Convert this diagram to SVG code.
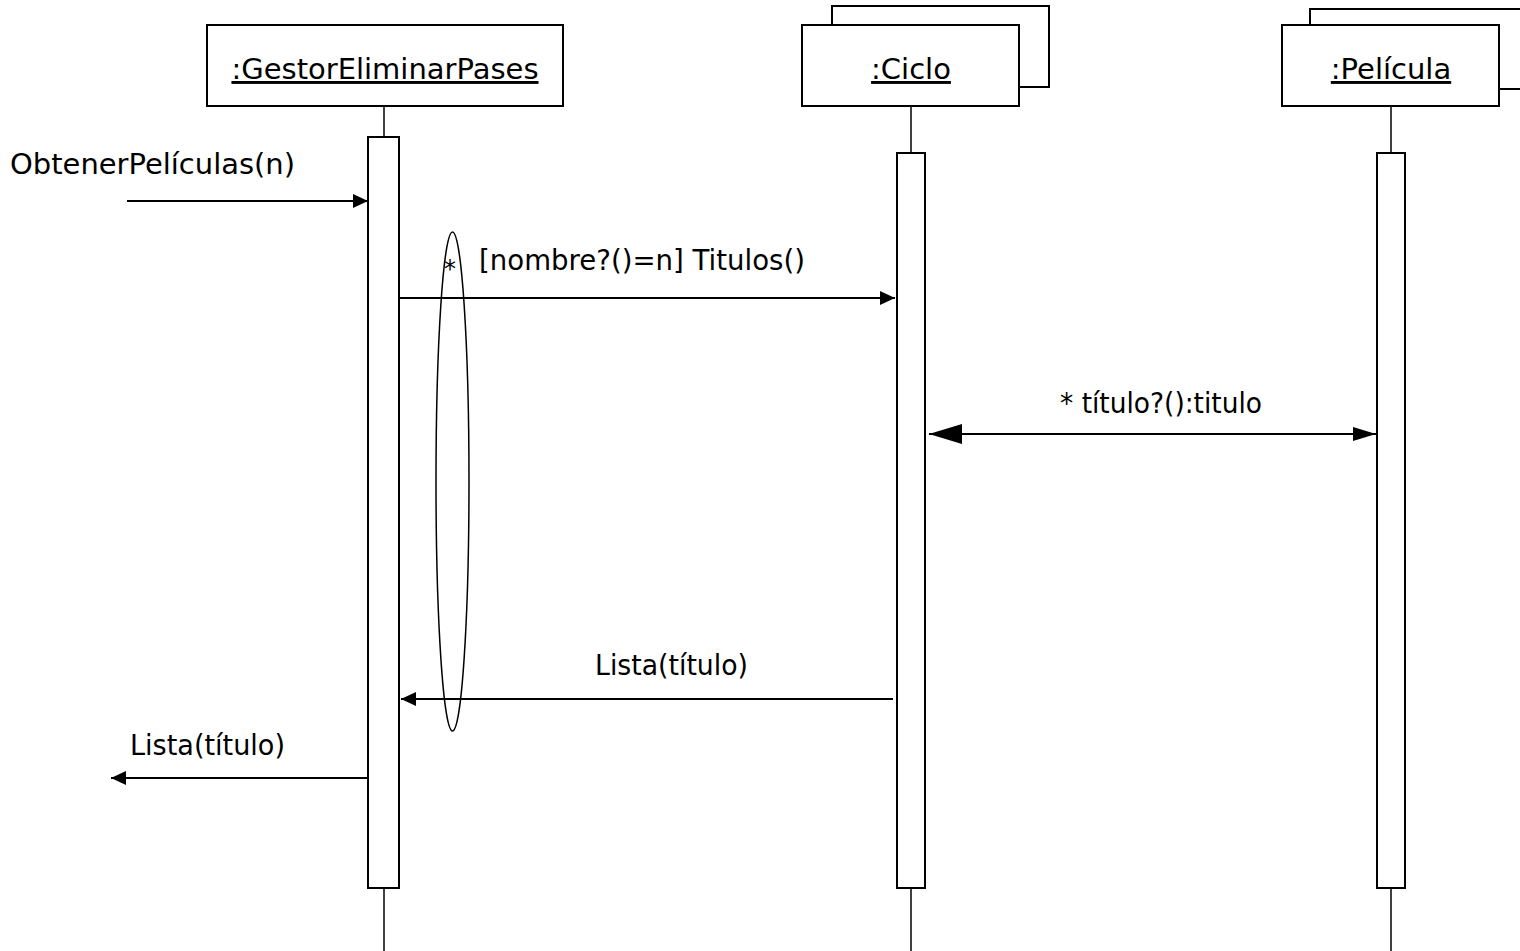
<svg xmlns="http://www.w3.org/2000/svg" width="1520" height="951" viewBox="0 0 1520 951">
  <defs>
    <style>
      .box { fill: #fff; stroke: #000; stroke-width: 2; }
      .life { stroke: #000; stroke-width: 1.5; fill: none; }
      .msg { stroke: #000; stroke-width: 2; fill: none; }
      .lbl { font-family: "DejaVu Sans", "Liberation Sans", sans-serif; font-size: 29px; fill: #000; }
      .name { font-family: "DejaVu Sans", "Liberation Sans", sans-serif; font-size: 29px; fill: #000; text-anchor: middle; text-decoration: underline; }
    </style>
    <marker id="arrow" viewBox="0 0 15 14" refX="15" refY="7" markerWidth="15" markerHeight="14" markerUnits="userSpaceOnUse" orient="auto">
      <path d="M0,0 L15,7 L0,14 Z" fill="#000"/>
    </marker>
    <marker id="arrowBig" viewBox="0 0 33 20" refX="33" refY="10" markerWidth="33" markerHeight="20" markerUnits="userSpaceOnUse" orient="auto-start-reverse">
      <path d="M0,0 L33,10 L0,20 Z" fill="#000"/>
    </marker>
    <marker id="arrowMid" viewBox="0 0 23 14" refX="23" refY="7" markerWidth="23" markerHeight="14" markerUnits="userSpaceOnUse" orient="auto">
      <path d="M0,0 L23,7 L0,14 Z" fill="#000"/>
    </marker>
  </defs>

  <rect width="1520" height="951" fill="#fff"/>

  <!-- Lifeline: GestorEliminarPases -->
  <g id="gestor">
    <line class="life" x1="384" y1="106" x2="384" y2="951"/>
    <rect class="box" x="207" y="25" width="356" height="81"/>
    <text class="name" x="385" y="79">:GestorEliminarPases</text>
    <rect class="box" x="368" y="137" width="31" height="751"/>
  </g>

  <!-- Lifeline: Ciclo (multi-object) -->
  <g id="ciclo">
    <line class="life" x1="911" y1="106" x2="911" y2="951"/>
    <rect class="box" x="832" y="6" width="217" height="81"/>
    <rect class="box" x="802" y="25" width="217" height="81"/>
    <text class="name" x="911" y="79">:Ciclo</text>
    <rect class="box" x="897" y="153" width="28" height="735"/>
  </g>

  <!-- Lifeline: Película (multi-object) -->
  <g id="pelicula">
    <line class="life" x1="1391" y1="106" x2="1391" y2="951"/>
    <rect class="box" x="1310" y="9" width="217" height="80"/>
    <rect class="box" x="1282" y="25" width="217" height="81"/>
    <text class="name" x="1391" y="79">:Película</text>
    <rect class="box" x="1377" y="153" width="28" height="735"/>
  </g>

  <!-- Iteration bracket -->
  <g id="iteration">
    <ellipse cx="452.5" cy="481.5" rx="16.5" ry="249.5" fill="none" stroke="#000" stroke-width="1.5"/>
    <text class="lbl" x="450" y="277" text-anchor="middle" style="font-size:24px">*</text>
  </g>

  <!-- Messages -->
  <g id="connectors">
    <line class="msg" x1="127" y1="201" x2="368" y2="201" marker-end="url(#arrow)"/>
    <text class="lbl" x="10" y="174" textLength="285" lengthAdjust="spacingAndGlyphs">ObtenerPelículas(n)</text>

    <line class="msg" x1="400" y1="298" x2="895" y2="298" marker-end="url(#arrow)"/>
    <text class="lbl" x="479" y="270" textLength="326" lengthAdjust="spacingAndGlyphs">[nombre?()=n] Titulos()</text>

    <line class="msg" x1="929" y1="434" x2="1376" y2="434" marker-start="url(#arrowBig)" marker-end="url(#arrowMid)"/>
    <text class="lbl" x="1060" y="413" textLength="202" lengthAdjust="spacingAndGlyphs">* título?():titulo</text>

    <line class="msg" x1="893" y1="699" x2="401" y2="699" marker-end="url(#arrow)"/>
    <text class="lbl" x="595" y="675" textLength="153" lengthAdjust="spacingAndGlyphs">Lista(título)</text>

    <line class="msg" x1="368" y1="778" x2="111" y2="778" marker-end="url(#arrow)"/>
    <text class="lbl" x="130" y="755" textLength="155" lengthAdjust="spacingAndGlyphs">Lista(título)</text>
  </g>
</svg>
